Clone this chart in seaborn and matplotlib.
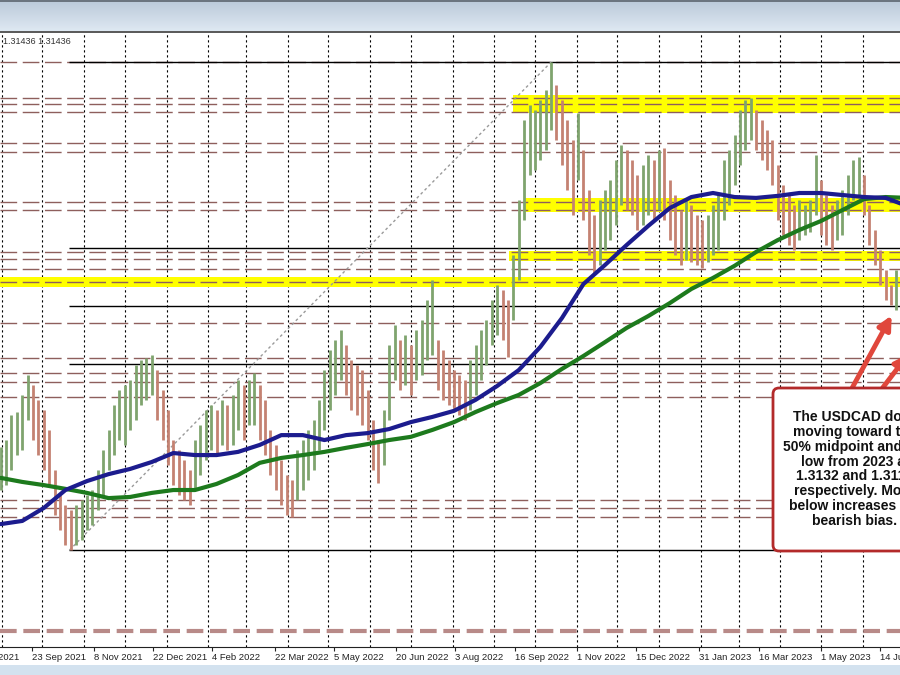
import matplotlib
matplotlib.use("Agg")
import matplotlib.pyplot as plt
import matplotlib.dates as mdates
import matplotlib.transforms as mtransforms
from matplotlib.patches import FancyBboxPatch, Rectangle
import numpy as np
import pandas as pd
import seaborn as sns

# USDCAD bars, one every 4 days from 31 Aug 2021
bar_start = "2021-08-31"
bar_high = [
    1.2645, 1.2669, 1.2756, 1.2766, 1.2825, 1.2894, 1.2859, 1.2808, 1.2773, 1.2704,
    1.2565, 1.2479, 1.2444, 1.2427, 1.2444, 1.2462, 1.2479, 1.2496, 1.2565, 1.2634,
    1.2704, 1.2790, 1.2842, 1.2859, 1.2877, 1.2929, 1.2946, 1.2953, 1.2963, 1.2911,
    1.2842, 1.2773, 1.2669, 1.2634, 1.2600, 1.2565, 1.2669, 1.2721, 1.2773, 1.2790,
    1.2773, 1.2808, 1.2790, 1.2825, 1.2877, 1.2859, 1.2877, 1.2901, 1.2859, 1.2808,
    1.2704, 1.2652, 1.2600, 1.2548, 1.2531, 1.2634, 1.2669, 1.2704, 1.2738, 1.2808,
    1.2911, 1.2981, 1.3015, 1.3050, 1.2998, 1.2946, 1.2929, 1.2911, 1.2842, 1.2738,
    1.2669, 1.2773, 1.2998, 1.3067, 1.3015, 1.3032, 1.2998, 1.3050, 1.3084, 1.3154,
    1.3223, 1.3015, 1.2981, 1.2946, 1.2911, 1.2894, 1.2877, 1.2946, 1.2998, 1.3050,
    1.3084, 1.3154, 1.3206, 1.3188, 1.3154, 1.3309, 1.3500, 1.3777, 1.3829, 1.3811,
    1.3846, 1.3881, 1.3977, 1.3898, 1.3846, 1.3777, 1.3707, 1.3801, 1.3673, 1.3534,
    1.3448, 1.3500, 1.3534, 1.3569, 1.3638, 1.3690, 1.3673, 1.3638, 1.3586, 1.3621,
    1.3656, 1.3638, 1.3673, 1.3680, 1.3569, 1.3517, 1.3465, 1.3500, 1.3482, 1.3448,
    1.3431, 1.3448, 1.3482, 1.3517, 1.3638, 1.3673, 1.3725, 1.3811, 1.3846, 1.3853,
    1.3811, 1.3777, 1.3742, 1.3707, 1.3621, 1.3552, 1.3517, 1.3482, 1.3500, 1.3482,
    1.3500, 1.3656, 1.3569, 1.3517, 1.3482, 1.3500, 1.3534, 1.3586, 1.3638, 1.3649,
    1.3586, 1.3482, 1.3396, 1.3327, 1.3257, 1.3206, 1.3257,
]
bar_low = [
    1.2496, 1.2513, 1.2565, 1.2617, 1.2634, 1.2738, 1.2669, 1.2617, 1.2565, 1.2513,
    1.2410, 1.2358, 1.2306, 1.2288, 1.2306, 1.2323, 1.2358, 1.2375, 1.2427, 1.2479,
    1.2565, 1.2617, 1.2669, 1.2652, 1.2704, 1.2738, 1.2790, 1.2808, 1.2825, 1.2738,
    1.2669, 1.2583, 1.2513, 1.2479, 1.2462, 1.2444, 1.2496, 1.2548, 1.2600, 1.2634,
    1.2617, 1.2652, 1.2634, 1.2652, 1.2704, 1.2669, 1.2721, 1.2721, 1.2669, 1.2617,
    1.2548, 1.2496, 1.2444, 1.2410, 1.2403, 1.2462, 1.2496, 1.2531, 1.2565, 1.2634,
    1.2704, 1.2773, 1.2825, 1.2877, 1.2825, 1.2773, 1.2756, 1.2721, 1.2669, 1.2565,
    1.2520, 1.2583, 1.2738, 1.2877, 1.2842, 1.2859, 1.2825, 1.2877, 1.2894, 1.2946,
    1.2963, 1.2842, 1.2808, 1.2790, 1.2773, 1.2756, 1.2738, 1.2773, 1.2825, 1.2877,
    1.2929, 1.2998, 1.3032, 1.3015, 1.2956, 1.3084, 1.3223, 1.3431, 1.3586, 1.3604,
    1.3638, 1.3673, 1.3742, 1.3707, 1.3621, 1.3534, 1.3448, 1.3569, 1.3431, 1.3309,
    1.3240, 1.3275, 1.3327, 1.3361, 1.3413, 1.3482, 1.3465, 1.3448, 1.3396, 1.3413,
    1.3448, 1.3431, 1.3465, 1.3431, 1.3361, 1.3309, 1.3275, 1.3292, 1.3285, 1.3275,
    1.3265, 1.3285, 1.3309, 1.3327, 1.3431, 1.3482, 1.3552, 1.3621, 1.3673, 1.3707,
    1.3673, 1.3638, 1.3604, 1.3552, 1.3431, 1.3379, 1.3344, 1.3327, 1.3361, 1.3379,
    1.3389, 1.3448, 1.3379, 1.3344, 1.3327, 1.3361, 1.3379, 1.3448, 1.3500, 1.3517,
    1.3448, 1.3344, 1.3275, 1.3206, 1.3154, 1.3136, 1.3119,
]

# moving averages, one value every 16 days from 31 Aug 2021
ma_start = "2021-08-31"
ma100 = [
    1.2378, 1.2389, 1.2434, 1.2496, 1.2527, 1.2551, 1.2569, 1.2593, 1.2624, 1.2617,
    1.2617, 1.2628, 1.2652, 1.2686, 1.2686, 1.2669, 1.2686, 1.2693, 1.2707, 1.2731,
    1.2749, 1.2770, 1.2808, 1.2856, 1.2911, 1.2991, 1.3091, 1.3209, 1.3275, 1.3344,
    1.3410, 1.3472, 1.3510, 1.3524, 1.3510, 1.3507, 1.3514, 1.3524, 1.3524, 1.3517,
    1.3510, 1.3507, 1.3479,
]
ma200 = [
    1.2538, 1.2524, 1.2513, 1.2500, 1.2486, 1.2468, 1.2472, 1.2486, 1.2496, 1.2496,
    1.2517, 1.2548, 1.2590, 1.2607, 1.2617, 1.2628, 1.2642, 1.2655, 1.2669, 1.2680,
    1.2704, 1.2731, 1.2766, 1.2797, 1.2825, 1.2866, 1.2915, 1.2960, 1.3008, 1.3057,
    1.3098, 1.3143, 1.3192, 1.3230, 1.3272, 1.3320, 1.3361, 1.3396, 1.3427, 1.3465,
    1.3503, 1.3510, 1.3507,
]

level_lines = [1.3977, 1.3853, 1.3832, 1.3804, 1.3697, 1.3666, 1.3493, 1.3465,
               1.3320, 1.3296, 1.3261, 1.3216, 1.3074, 1.2953, 1.2901, 1.2870,
               1.2818, 1.2462, 1.2434, 1.2403]
far_level = 1.2008
band_low = [1.3800, 1.3458, 1.3288, 1.3198]
band_high = [1.3863, 1.3506, 1.3323, 1.3233]
band_from = ["2022-09-15", "2022-09-24", "2022-09-12", "2021-08-01"]

swing_low_date, swing_low = "2021-10-21", 1.2288
swing_high_date, swing_high = "2022-10-13", 1.3977
fib_levels = [1.3977, 1.3332, 1.3132, 1.2933, 1.2288]

tick_dates = ["2021-09-23", "2021-11-08", "2021-12-22", "2022-02-04", "2022-03-22",
              "2022-05-05", "2022-06-20", "2022-08-03", "2022-09-16", "2022-11-01",
              "2022-12-15", "2023-01-31", "2023-03-16", "2023-05-01", "2023-06-14"]
tick_labels = ["23 Sep 2021", "8 Nov 2021", "22 Dec 2021", "4 Feb 2022", "22 Mar 2022",
               "5 May 2022", "20 Jun 2022", "3 Aug 2022", "16 Sep 2022", "1 Nov 2022",
               "15 Dec 2022", "31 Jan 2023", "16 Mar 2023", "1 May 2023", "14 Jun 2023"]
first_tick_date, first_tick_label = "2021-08-09", "9 Aug 2021"

note = ("The USDCAD does\nmoving toward the\n50% midpoint and the\nlow from 2023 at\n"
        "1.3132 and 1.3117\nrespectively. Move\nbelow increases the\nbearish bias.")

sns.set_style("white")
plt.rcParams["font.family"] = ["Liberation Sans", "DejaVu Sans"]

fig = plt.figure(figsize=(9, 6.75), dpi=100)
ax = fig.add_axes([0, 28 / 675, 1, 615 / 675])

x_left = pd.Timestamp("2021-08-30 12:00")
x_right = pd.Timestamp("2023-06-28 15:00")

bar_dates = pd.date_range(bar_start, periods=len(bar_high), freq="4D")
hi = np.array(bar_high)
lo = np.array(bar_low)
mid = (hi + lo) / 2
step = np.diff(mid, prepend=mid[0])
bar_colors = ["#7fa46e" if s >= 0 else "#c48272" for s in step]

# monthly dotted grid
for m in pd.date_range("2021-09-01", "2023-06-01", freq="MS"):
    ax.axvline(m, color="black", lw=0.8, ls=(0, (2, 2.5)), zorder=1)

# yellow zones
for b_lo, b_hi, b_from in zip(band_low, band_high, band_from):
    ax.fill_between([pd.Timestamp(b_from), x_right], b_lo, b_hi,
                    color="#ffff00", lw=0, zorder=1.5)

for lvl in level_lines:
    ax.axhline(lvl, color="#8e5f5c", lw=1.0, ls=(0, (12, 4)), zorder=2)
ax.axhline(far_level, color="#b88a88", lw=3, ls=(0, (4, 1.6)), zorder=2)

# fibonacci retracement
ax.hlines(fib_levels, pd.Timestamp(swing_low_date), x_right, color="black", lw=1, zorder=2.5)
ax.plot([pd.Timestamp(swing_low_date), pd.Timestamp(swing_high_date)],
        [swing_low, swing_high], color="#9a9a9a", lw=1, ls=(0, (2, 2)), zorder=2.5)

ax.vlines(bar_dates, lo, hi, colors=bar_colors, lw=2.0, zorder=3)

ma_df = pd.DataFrame({
    "date": pd.date_range(ma_start, periods=len(ma100), freq="16D"),
    "ma100": ma100,
    "ma200": ma200,
})
sns.lineplot(data=ma_df, x="date", y="ma200", color="#1d7a1d", lw=3, ax=ax, zorder=5)
sns.lineplot(data=ma_df, x="date", y="ma100", color="#1c1c8e", lw=3, ax=ax, zorder=5)

ax.set_xlim(x_left, x_right)
ax.set_ylim(1.19527, 1.40812)
ax.set_xlabel("")
ax.set_ylabel("")
ax.set_yticks([])
ax.set_xticks(pd.to_datetime(tick_dates))
ax.set_xticklabels(tick_labels)
for lbl in ax.get_xticklabels():
    lbl.set_horizontalalignment("left")
ax.tick_params(axis="x", length=3, width=0.8, pad=1, labelsize=6.8,
               colors="#222222", direction="out", bottom=True)
for side in ["left", "right"]:
    ax.spines[side].set_visible(False)
ax.spines["top"].set_color("#3c3c3c")
ax.spines["top"].set_linewidth(1.2)
ax.spines["bottom"].set_color("#222222")
ax.spines["bottom"].set_linewidth(0.8)

trans = mtransforms.blended_transform_factory(ax.transData, ax.transAxes)
ax.annotate(first_tick_label, xy=(mdates.date2num(pd.Timestamp(first_tick_date)), 0),
            xycoords=trans, xytext=(0, -4), textcoords="offset points",
            ha="left", va="top", fontsize=6.8, color="#222222", annotation_clip=False)

# header and footer strips of the terminal window
hax = fig.add_axes([0, 1 - 31 / 675, 1, 31 / 675])
top_c = np.array([0.73, 0.79, 0.85])
bot_c = np.array([0.87, 0.91, 0.95])
grad = np.linspace(0, 1, 31)[:, None, None] * (bot_c - top_c) + top_c
grad = np.repeat(grad, 4, axis=1)
grad[:2] = [0.42, 0.46, 0.5]
hax.imshow(grad, aspect="auto", interpolation="nearest")
hax.axis("off")
fig.add_artist(Rectangle((0, 0), 1, 10 / 675, transform=fig.transFigure,
                         color="#d3e2ef", lw=0))

fig.text(3 / 900, 1 - 42 / 675, "1.31436 1.31436", fontsize=6.5, va="center",
         color="#333333")

# note box with arrows
box = FancyBboxPatch((7.73, 1.24), 2.3, 1.63, boxstyle="round,pad=0,rounding_size=0.06",
                     transform=fig.dpi_scale_trans, fc="white", ec="#b32a2a", lw=2,
                     zorder=10)
fig.add_artist(box)
fig.text(855 / 900, 1 - 469 / 675, note, ha="center", va="center", fontsize=10,
         fontweight="bold", linespacing=1.08, color="#111111", zorder=11)
arrow = dict(arrowstyle="-|>", color="#e0473c", lw=3.5, mutation_scale=20)
ax.annotate("", xy=(893, 675 - 313), xycoords="figure pixels",
            xytext=(851, 675 - 390), textcoords="figure pixels", arrowprops=arrow,
            annotation_clip=False)
ax.annotate("", xy=(910, 675 - 352), xycoords="figure pixels",
            xytext=(881, 675 - 390), textcoords="figure pixels", arrowprops=arrow,
            annotation_clip=False)

fig.savefig("out.png", dpi=100)
